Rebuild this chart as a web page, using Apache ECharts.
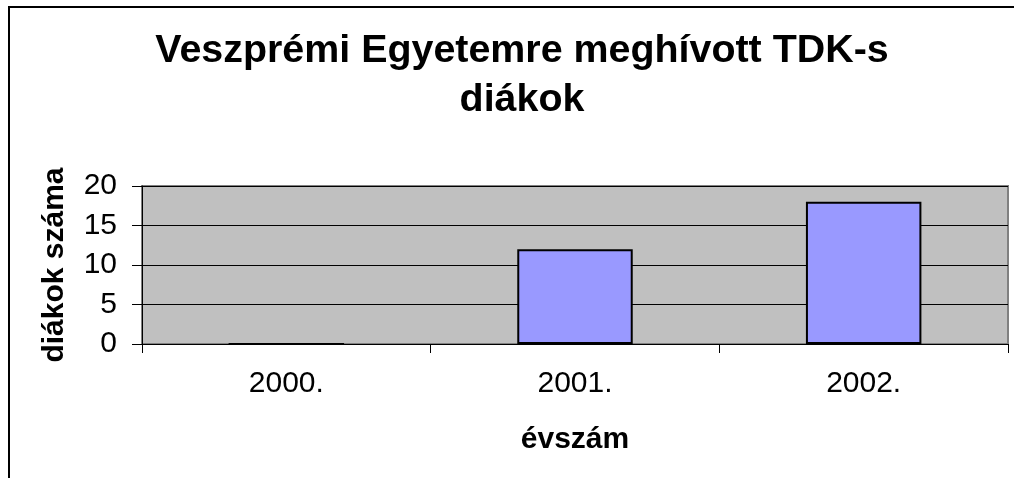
<!DOCTYPE html>
<html>
<head>
<meta charset="utf-8">
<script src="https://cdn.jsdelivr.net/npm/echarts@6/dist/echarts.min.js"></script>
<style>
  html, body { margin: 0; padding: 0; background: #fff; }
  #chart { width: 1014px; height: 478px; }
</style>
</head>
<body>
<div id="chart"></div>
<script>
// adatok
const categories = ["2000.", "2001.", "2002."];
const values = [0, 12, 18];
const yTicks = { min: 0, max: 20, interval: 5 };

const font = '"Liberation Sans", Arial, sans-serif';

const chart = echarts.init(document.getElementById("chart"));

const option = {
  animation: false,
  backgroundColor: "#fff",
  title: {
    text: "Veszprémi Egyetemre meghívott TDK-s\ndiákok",
    left: 517,
    top: 22,
    textAlign: "center",
    textStyle: {
      fontFamily: font,
      fontSize: 39.4,
      fontWeight: "bold",
      color: "#000",
      lineHeight: 49,
    },
  },
  graphic: [
    {
      type: "rect",
      shape: { x: 9, y: 7, width: 1100, height: 600 },
      style: { fill: "none", stroke: "#000", lineWidth: 2 },
      silent: true,
    },
  ],
  grid: {
    left: 142,
    top: 186,
    right: 6,
    bottom: 134,
    show: true,
    backgroundColor: "#C0C0C0",
    borderColor: "#808080",
    borderWidth: 2,
  },
  xAxis: {
    type: "category",
    data: categories,
    name: "évszám",
    nameLocation: "middle",
    nameGap: 81,
    nameTextStyle: {
      fontFamily: font,
      fontSize: 30,
      fontWeight: "bold",
      color: "#000",
    },
    axisLine: { lineStyle: { color: "#000", width: 1 } },
    axisTick: { show: true, length: 9, lineStyle: { color: "#000" } },
    axisLabel: {
      fontFamily: font,
      fontSize: 30,
      color: "#000",
      margin: 25,
    },
  },
  yAxis: {
    type: "value",
    min: yTicks.min,
    max: yTicks.max,
    interval: yTicks.interval,
    name: "diákok száma",
    nameLocation: "middle",
    nameGap: 72,
    nameTextStyle: {
      fontFamily: font,
      fontSize: 30,
      fontWeight: "bold",
      color: "#000",
    },
    axisLine: { show: true, lineStyle: { color: "#000", width: 1 } },
    axisTick: { show: true, length: 10, lineStyle: { color: "#000" } },
    axisLabel: {
      fontFamily: font,
      fontSize: 30,
      color: "#000",
      margin: 25,
    },
    splitLine: { show: true, lineStyle: { color: "#000", width: 1 } },
  },
  series: [
    {
      type: "bar",
      data: values,
      barWidth: "40%",
      itemStyle: {
        color: "#9999FF",
        borderColor: "#000",
        borderWidth: 2,
      },
    },
  ],
};

chart.setOption(option);
</script>
</body>
</html>
